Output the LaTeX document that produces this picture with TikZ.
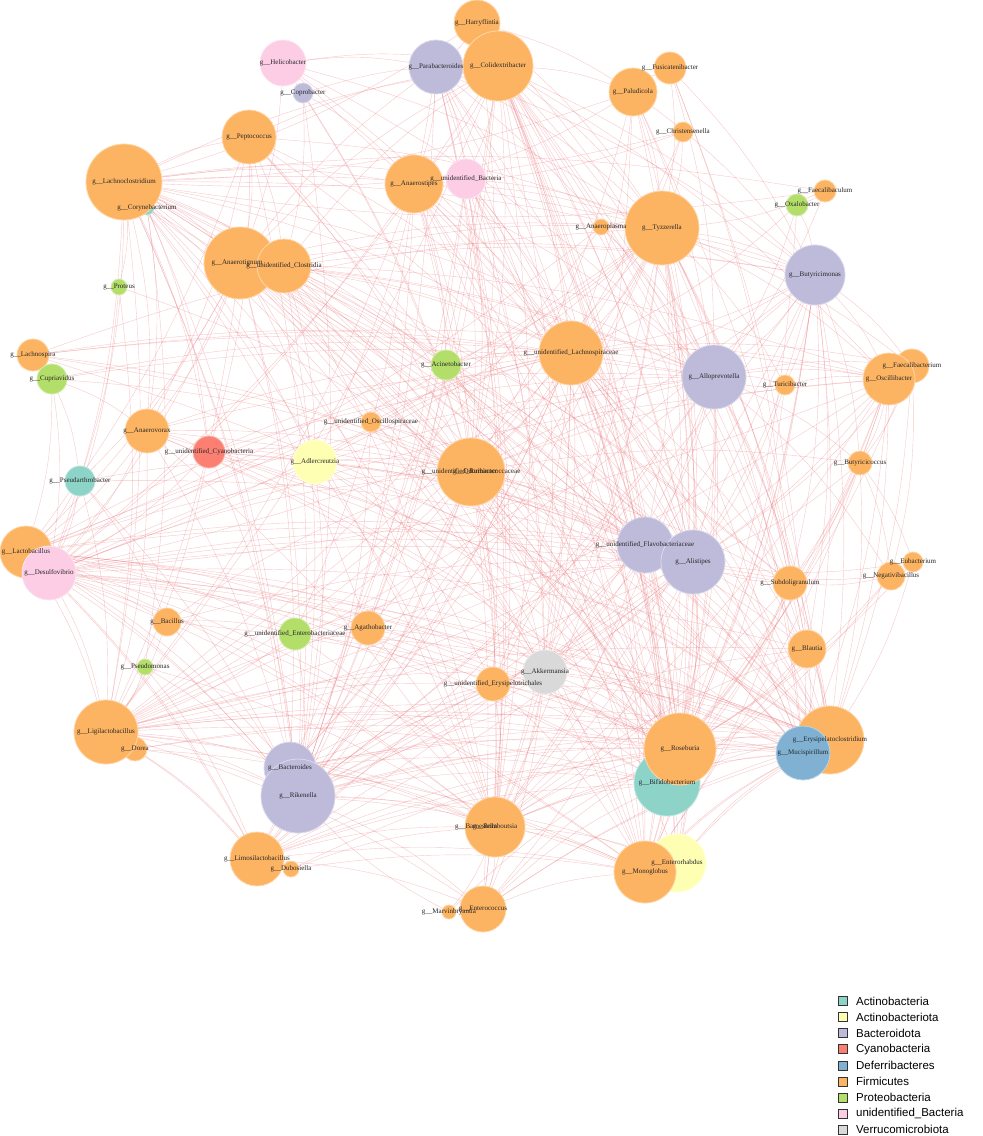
\documentclass[tikz,border=0pt]{standalone}
\usepackage{fontspec}
\setmainfont{Liberation Serif}
\newfontfamily\legendfont{Liberation Sans}
\usetikzlibrary{backgrounds,positioning}
\definecolor{actino}{HTML}{8DD3C7}
\definecolor{actiota}{HTML}{FFFFB3}
\definecolor{bactero}{HTML}{BEBADA}
\definecolor{cyano}{HTML}{FB8072}
\definecolor{deferri}{HTML}{80B1D3}
\definecolor{firmi}{HTML}{FDB462}
\definecolor{proteo}{HTML}{B3DE69}
\definecolor{unbact}{HTML}{FCCDE5}
\definecolor{verru}{HTML}{D9D9D9}
\definecolor{edgered}{RGB}{236,120,125}
\tikzset{
  bubble/.style={circle, inner sep=0pt, fill=#1, draw=#1!55!white, line width=0.8pt},
  genus/.style={font=\fontsize{7}{8}\selectfont, text=black!85, inner sep=0pt},
  web/.style={draw=edgered, line width=0.4pt, opacity=0.4},
  legkey/.style={rectangle, draw=black!80, line width=0.8pt, minimum size=9pt, inner sep=0pt},
  legtext/.style={font=\legendfont\fontsize{11.5}{13}\selectfont, inner sep=0pt, anchor=west}
}

\begin{document}
\begin{tikzpicture}[x=1pt,y=-1pt]
\useasboundingbox (0,0) rectangle (983,1136);

% genus nodes, in drawing order
\foreach \id/\x/\y/\rad/\col in {
  helico/283/63/23/unbact, copro/303/93/10/bactero, pepto/249/137/27/firmi,
  coryne/147/208/7/actino, lachnoc/124/182/38/firmi, anaerot/240/263/36/firmi,
  uclost/284/266/27/firmi, proteus/119/287/8/proteo, harry/477/23/23/firmi,
  parab/436/67/27/bactero, colid/498/66/35/firmi, paludi/633/92/24/firmi,
  fusica/670/68/16/firmi, christ/683/132/10/firmi, anaeros/414/184/29/firmi,
  ubact/466/179/20/unbact, anaerop/601/227/8/firmi, tyzz/662/228/37/firmi,
  faecbac/825/191/11/firmi, oxalo/797/205/11/proteo, butyrim/815/275/30/bactero,
  lachnos/33/355/16/firmi, cupri/52/379/15/proteo, anaerov/147/431/22/firmi,
  ucyano/209/452/16/cyano, pseudar/80/481/15/actino, lacto/26/552/26/firmi,
  desulfo/49/573/27/unbact, adler/315/462/22/actiota, acine/446/365/15/proteo,
  ulachno/571/353/32/firmi, uoscil/371/422/10/firmi, odori/475/472/26/bactero,
  urumi/471/472/34/firmi, uflavo/645/545/28/bactero, alist/693/562/32/bactero,
  allop/714/377/32/bactero, turici/785/385/10/firmi, faecbt/912/366/17/firmi,
  oscill/889/379/26/firmi, butyric/860/463/12/firmi, eubac/913/562/10/firmi,
  negat/891/576/14/firmi, subdo/790/583/17/firmi, bacil/167/622/14/firmi,
  uentero/295/634/16/proteo, pseudom/145/667/8/proteo, dorea/135/749/12/firmi,
  ligila/106/732/32/firmi, bactd/290/768/26/bactero, riken/298/796/37/bactero,
  limosi/257/859/27/firmi, dubos/291/869/8/firmi, agatho/368/628/17/firmi,
  akker/545/672/22/verru, uerysi/493/684/17/firmi, barnes/495/827/22/bactero,
  rombou/495/827/30/firmi, marvin/449/912/7/firmi, entero/483/909/23/firmi,
  blautia/807/649/19/firmi, bifido/667/783/33/actino, roseb/680/749/36/firmi,
  erysi/830/740/34/firmi, mucis/803/753/27/deferri, enteror/677/863/29/actiota,
  monog/645/872/31/firmi}
  \node[bubble=\col, minimum size=2*\rad] (\id) at (\x,\y) {};

% co-occurrence edges
\begin{scope}[on background layer]
\fill[white] (0,0) rectangle (983,1136);
\foreach \a/\nbrs in {
  lachnoc/{pepto,anaerot,uclost,anaeros,ubact,colid,tyzz,ulachno,urumi,adler,ucyano,anaerov,acine,allop,uflavo,alist,bactd,riken,rombou,roseb,erysi,mucis,ligila,desulfo,pseudar,akker,uerysi,butyrim,subdo,agatho,proteus,faecbac},
  coryne/{riken,urumi,ucyano,roseb,pseudom,anaerov},
  helico/{colid,parab,tyzz,ulachno,anaerot,urumi,alist,allop},
  copro/{colid,anaeros,urumi,uclost,riken},
  pepto/{anaerot,uclost,ulachno,urumi,anaerov,ucyano,alist,roseb,bifido,riken,colid,tyzz,lacto},
  anaerot/{colid,parab,tyzz,ulachno,urumi,alist,allop,uflavo,roseb,bifido,monog,erysi,mucis,riken,bactd,rombou,akker,ligila,desulfo,lacto,anaerov,pseudar,adler,butyrim,oscill,acine},
  uclost/{colid,tyzz,ulachno,urumi,allop,alist,roseb,erysi,rombou,riken,monog,adler,butyrim,subdo},
  proteus/{ligila,desulfo,urumi},
  harry/{lachnoc,parab,tyzz,paludi,ulachno,urumi,alist,allop,bifido,roseb},
  parab/{anaeros,ubact,tyzz,ulachno,urumi,alist,allop,roseb,monog,riken,rombou,akker,adler,uerysi,butyrim},
  colid/{anaeros,ubact,paludi,tyzz,ulachno,urumi,alist,allop,uflavo,roseb,bifido,monog,enteror,erysi,mucis,rombou,riken,bactd,akker,subdo,blautia,oscill,butyrim,ligila,desulfo,agatho},
  paludi/{fusica,tyzz,ulachno,allop,alist,roseb,erysi,butyrim,anaeros,urumi,lachnoc,rombou},
  fusica/{tyzz,butyrim,allop,blautia,subdo},
  christ/{tyzz,ulachno,urumi,anaeros,lachnoc},
  anaeros/{ubact,tyzz,ulachno,urumi,alist,allop,roseb,bifido,rombou,riken,ligila,desulfo,uentero,acine,monog,erysi,entero},
  ubact/{tyzz,ulachno,urumi,alist,uflavo,roseb,rombou,riken,akker,bifido,entero,limosi},
  anaerop/{tyzz,butyrim,allop,alist,ligila,lacto},
  tyzz/{butyrim,ulachno,urumi,allop,alist,uflavo,roseb,bifido,monog,enteror,erysi,mucis,rombou,riken,bactd,subdo,blautia,oscill,faecbt,turici,akker,ligila,desulfo,lacto,uerysi,adler,acine},
  faecbac/{oxalo,tyzz,allop,lachnoc},
  oxalo/{butyrim,allop,ulachno,roseb},
  butyrim/{allop,alist,ulachno,urumi,oscill,faecbt,turici,roseb,bifido,erysi,mucis,monog,subdo,blautia,riken,rombou,ligila,desulfo,butyric,akker},
  lachnos/{ulachno,tyzz,urumi,allop,oscill,alist,erysi},
  cupri/{urumi,ulachno,allop,anaerov,pseudar,desulfo,lacto},
  anaerov/{ucyano,urumi,ulachno,allop,alist,roseb,rombou,riken,ligila,desulfo,lacto,erysi,akker},
  ucyano/{urumi,ulachno,allop,alist,uflavo,roseb,erysi,mucis,riken,ligila,desulfo,adler},
  pseudar/{desulfo,lacto,ligila,urumi,riken,alist,bacil},
  lacto/{urumi,ulachno,alist,uflavo,roseb,bifido,erysi,mucis,monog,rombou,riken,bactd,ligila,limosi,akker,agatho,uentero,allop},
  desulfo/{urumi,ulachno,alist,allop,uflavo,roseb,bifido,erysi,mucis,monog,rombou,riken,ligila,limosi,akker,uerysi,subdo,blautia,oscill,bacil},
  adler/{urumi,ulachno,alist,roseb,riken,rombou,erysi,akker},
  acine/{urumi,ulachno,alist,riken,roseb,bifido},
  ulachno/{urumi,allop,alist,uflavo,roseb,bifido,monog,enteror,erysi,mucis,rombou,riken,bactd,akker,uerysi,subdo,blautia,oscill,faecbt,ligila,limosi,entero},
  uoscil/{urumi,alist,riken,roseb,ulachno},
  urumi/{allop,alist,uflavo,roseb,bifido,monog,enteror,erysi,mucis,rombou,riken,bactd,akker,uerysi,subdo,blautia,oscill,ligila,limosi,entero,agatho,uentero,butyric},
  allop/{alist,uflavo,roseb,bifido,monog,erysi,mucis,rombou,riken,akker,subdo,blautia,oscill,faecbt,turici,butyric,negat,ligila,limosi},
  turici/{oscill,alist,allop,roseb},
  faecbt/{oscill,alist,roseb,erysi,butyric,negat},
  oscill/{alist,roseb,bifido,erysi,mucis,subdo,butyric,monog,riken,ligila,rombou,desulfo},
  butyric/{eubac,negat,subdo,roseb,alist,erysi},
  eubac/{alist,roseb,erysi},
  negat/{subdo,roseb,bifido,alist},
  subdo/{alist,roseb,erysi,mucis,bifido,monog,rombou},
  uflavo/{alist,roseb,bifido,monog,erysi,mucis,rombou,riken,ligila,akker,limosi},
  alist/{roseb,bifido,monog,enteror,erysi,mucis,rombou,riken,bactd,akker,blautia,ligila,limosi,entero,uerysi},
  bacil/{ligila,urumi,riken,roseb,alist,uentero},
  uentero/{riken,rombou,roseb,alist,ligila,erysi},
  pseudom/{ligila,riken,rombou,limosi},
  ligila/{riken,bactd,rombou,roseb,bifido,monog,erysi,mucis,limosi,entero,akker,uerysi,agatho,blautia},
  dorea/{riken,rombou,roseb,erysi,limosi},
  bactd/{riken,rombou,roseb,bifido,monog,erysi,mucis,akker,limosi},
  riken/{rombou,roseb,bifido,monog,enteror,erysi,mucis,limosi,entero,akker,uerysi,blautia},
  limosi/{rombou,roseb,bifido,monog,erysi,entero,akker},
  dubos/{rombou,roseb,monog},
  agatho/{rombou,roseb,alist,erysi},
  akker/{rombou,roseb,bifido,monog,erysi,mucis,entero},
  uerysi/{rombou,roseb,bifido,monog,erysi},
  rombou/{roseb,bifido,monog,enteror,erysi,mucis,entero,marvin,blautia},
  marvin/{entero,riken,roseb},
  entero/{roseb,bifido,monog,erysi,mucis},
  blautia/{roseb,erysi,mucis,bifido},
  bifido/{mucis,erysi,monog,enteror},
  roseb/{erysi,mucis,monog,enteror},
  monog/{mucis,erysi},
  enteror/{mucis,erysi}}
  \foreach \b in \nbrs
    \draw[web] (\a) to[bend left=8] (\b);
\end{scope}

% labels on top of every circle
\foreach \id/\txt in {
  helico/Helicobacter, copro/Coprobacter, pepto/Peptococcus, coryne/Corynebacterium,
  lachnoc/Lachnoclostridium, proteus/Proteus, harry/Harryflintia,
  parab/Parabacteroides, colid/Colidextribacter, paludi/Paludicola,
  fusica/Fusicatenibacter, christ/Christensenella, anaeros/Anaerostipes,
  ubact/unidentified\_Bacteria, anaerop/Anaeroplasma, tyzz/Tyzzerella,
  faecbac/Faecalibaculum, oxalo/Oxalobacter, butyrim/Butyricimonas,
  lachnos/Lachnospira, cupri/Cupriavidus, anaerov/Anaerovorax,
  ucyano/unidentified\_Cyanobacteria, pseudar/Pseudarthrobacter,
  lacto/Lactobacillus, desulfo/Desulfovibrio, adler/Adlercreutzia,
  acine/Acinetobacter, ulachno/unidentified\_Lachnospiraceae,
  uoscil/unidentified\_Oscillospiraceae, odori/Odoribacter,
  urumi/unidentified\_Ruminococcaceae, uflavo/unidentified\_Flavobacteriaceae,
  alist/Alistipes, allop/Alloprevotella, turici/Turicibacter,
  faecbt/Faecalibacterium, oscill/Oscillibacter, butyric/Butyricicoccus,
  eubac/Eubacterium, negat/Negativibacillus, subdo/Subdoligranulum,
  bacil/Bacillus, uentero/unidentified\_Enterobacteriaceae, pseudom/Pseudomonas,
  ligila/Ligilactobacillus, dorea/Dorea, bactd/Bacteroides, riken/Rikenella,
  limosi/Limosilactobacillus, dubos/Dubosiella, agatho/Agathobacter,
  akker/Akkermansia, uerysi/unidentified\_Erysipelotrichales,
  rombou/Romboutsia, marvin/Marvinbryantia,
  entero/Enterococcus, blautia/Blautia, bifido/Bifidobacterium,
  roseb/Roseburia, erysi/Erysipelatoclostridium, mucis/Mucispirillum,
  enteror/Enterorhabdus, monog/Monoglobus}
  \node[genus] at (\id.center) {g\_\_\txt};
% labels of the overlapping pairs
\node[genus, xshift=-3pt] at (anaerot.center) {g\_\_Anaerotignum};
\node[genus] at (uclost.center) {g\_\_unidentified\_Clostridia};
\node[genus, xshift=-19pt] at (barnes.center) {g\_\_Barnesiella};

% phylum legend
\foreach \phy/\col [count=\i from 0] in {Actinobacteria/actino, Actinobacteriota/actiota,
  Bacteroidota/bactero, Cyanobacteria/cyano, Deferribacteres/deferri, Firmicutes/firmi,
  Proteobacteria/proteo, unidentified\_Bacteria/unbact, Verrucomicrobiota/verru} {
  \node[legkey, fill=\col] (key\i) at (843,1001+16.1*\i) {};
  \node[legtext, right=8pt of key\i] (phy\i) {\phy};
}
\end{tikzpicture}
\end{document}
